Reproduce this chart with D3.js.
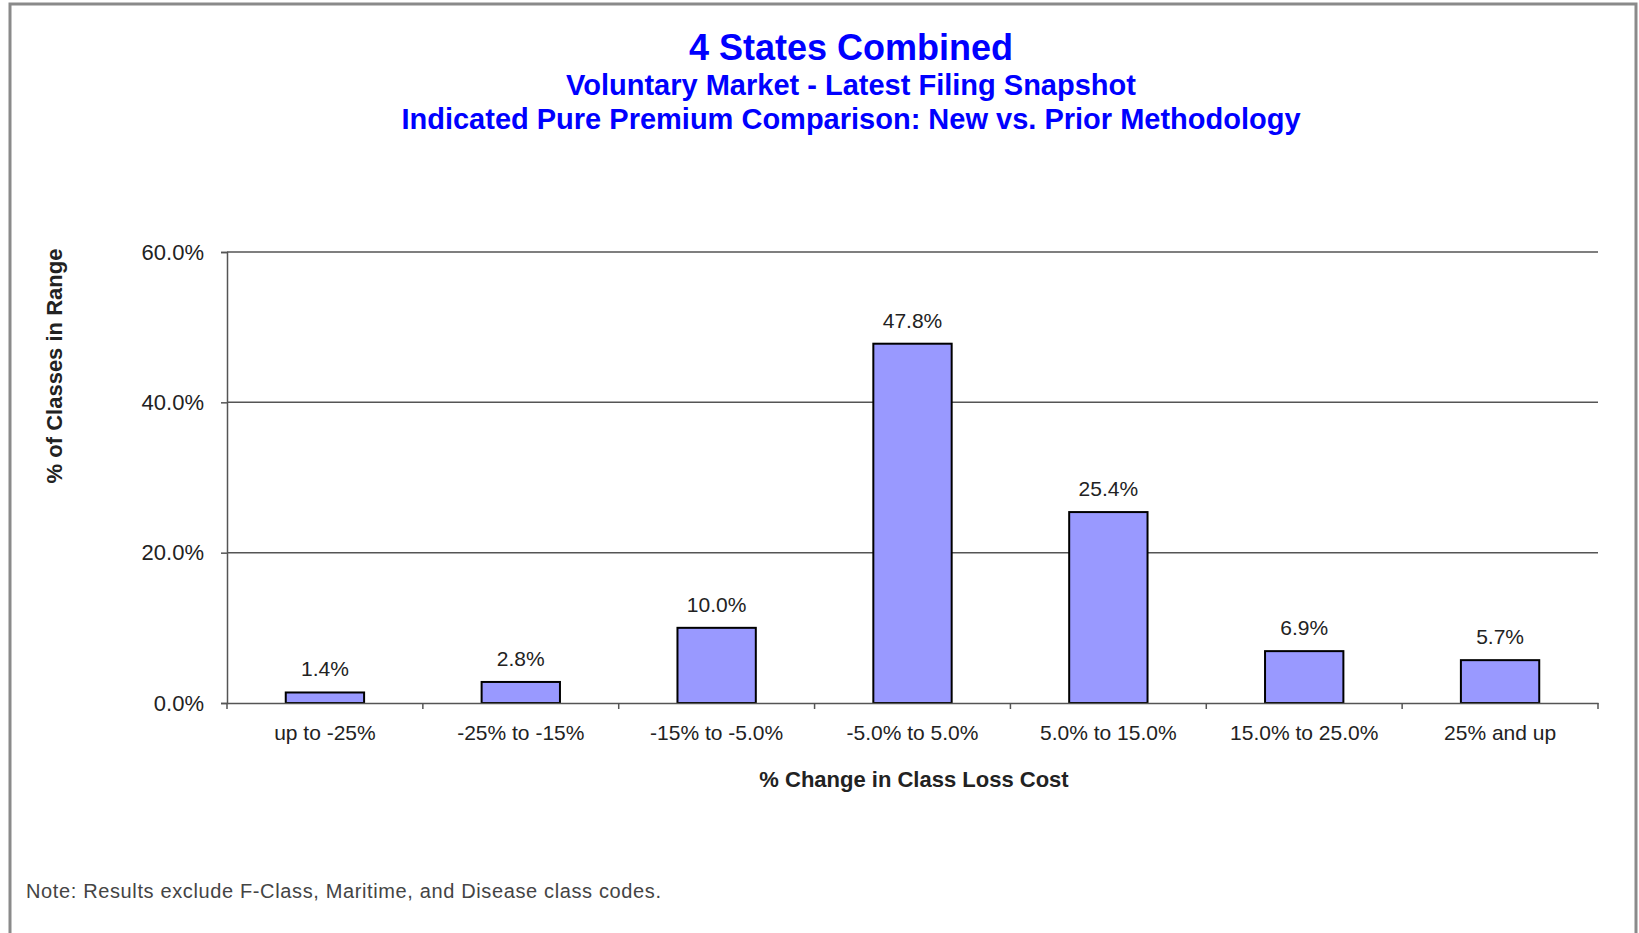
<!DOCTYPE html>
<html>
<head>
<meta charset="utf-8">
<script src="https://cdn.jsdelivr.net/npm/d3@7"></script>
<style>
  html, body { margin: 0; padding: 0; background: #ffffff; }
  svg { display: block; }
  text { font-family: "Liberation Sans", Arial, sans-serif; }
</style>
</head>
<body>
<svg id="chart" width="1639" height="933"></svg>
<script>
// Share of classes falling in each loss-cost change range
const categories = ["up to -25%", "-25% to -15%", "-15% to -5.0%", "-5.0% to 5.0%",
                    "5.0% to 15.0%", "15.0% to 25.0%", "25% and up"];
const values = [1.4, 2.8, 10.0, 47.8, 25.4, 6.9, 5.7];
const yTicks = [0, 20, 40, 60];

const titleLines = ["4 States Combined",
                    "Voluntary Market - Latest Filing Snapshot",
                    "Indicated Pure Premium Comparison: New vs. Prior Methodology"];
const yTitle = "% of Classes in Range";
const xTitle = "% Change in Class Loss Cost";
const note = "Note: Results exclude F-Class, Maritime, and Disease class codes.";

const W = 1639, H = 933;
const plot = { left: 227, right: 1598, top: 252, bottom: 703 };
const textColor = "#222";
const gridColor = "#555";

const svg = d3.select("#chart");

// outer frame
svg.append("rect").attr("x", 0).attr("y", 0).attr("width", W).attr("height", H).attr("fill", "#fff");
svg.append("path")
  .attr("d", `M10,${H} V4 H1636 V${H}`)
  .attr("fill", "none").attr("stroke", "#8a8a8a").attr("stroke-width", 3);

// titles
const titleSizes = [36, 29, 29];
const titleY = [60, 95, 129];
titleLines.forEach((t, i) => {
  svg.append("text")
    .attr("x", 851).attr("y", titleY[i])
    .attr("text-anchor", "middle")
    .attr("font-size", titleSizes[i]).attr("font-weight", "bold")
    .attr("fill", "#0000ff")
    .text(t);
});

const x = d3.scaleBand().domain(categories).range([plot.left, plot.right])
  .paddingInner(0.6).paddingOuter(0.3);
const y = d3.scaleLinear().domain([0, 60]).range([plot.bottom, plot.top]);

// horizontal gridlines
svg.append("g").selectAll("line").data(yTicks.filter(d => d > 0)).join("line")
  .attr("x1", plot.left).attr("x2", plot.right)
  .attr("y1", d => y(d)).attr("y2", d => y(d))
  .attr("stroke", gridColor).attr("stroke-width", 1.5);

// bars
svg.append("g").selectAll("rect").data(values).join("rect")
  .attr("x", (d, i) => x(categories[i]))
  .attr("y", d => y(d))
  .attr("width", x.bandwidth())
  .attr("height", d => y(0) - y(d))
  .attr("fill", "#9999ff").attr("stroke", "#000").attr("stroke-width", 2);

// value labels
svg.append("g").selectAll("text").data(values).join("text")
  .attr("x", (d, i) => x(categories[i]) + x.bandwidth() / 2)
  .attr("y", d => y(d) - 16)
  .attr("text-anchor", "middle")
  .attr("font-size", 21).attr("fill", textColor)
  .text(d => d.toFixed(1) + "%");

// y axis
const yAxis = svg.append("g").attr("transform", `translate(${plot.left},0)`)
  .call(d3.axisLeft(y).tickValues(yTicks).tickSize(6).tickPadding(17)
    .tickFormat(d => d.toFixed(1) + "%"));
yAxis.select(".domain").attr("stroke", gridColor).attr("stroke-width", 1.5);
yAxis.selectAll(".tick line").attr("stroke", gridColor).attr("stroke-width", 1.5);
yAxis.selectAll(".tick text").attr("font-size", 22).attr("fill", textColor)
  .attr("font-family", "Liberation Sans, Arial, sans-serif");

// x axis: category labels
const xAxis = svg.append("g").attr("transform", `translate(0,${plot.bottom})`)
  .call(d3.axisBottom(x).tickSize(0).tickPadding(22));
xAxis.select(".domain").attr("stroke", gridColor).attr("stroke-width", 1.5);
xAxis.selectAll(".tick text").attr("font-size", 21).attr("fill", textColor)
  .attr("font-family", "Liberation Sans, Arial, sans-serif");

// x axis: tick marks at category boundaries
const step = x.step();
const bounds = categories.map(c => x(c) - step * x.paddingOuter()).concat([plot.right]);
svg.append("g").selectAll("line").data(bounds).join("line")
  .attr("x1", d => d).attr("x2", d => d)
  .attr("y1", plot.bottom).attr("y2", plot.bottom + 6)
  .attr("stroke", gridColor).attr("stroke-width", 1.5);

// axis titles
svg.append("text")
  .attr("transform", "translate(62,366) rotate(-90)")
  .attr("text-anchor", "middle")
  .attr("font-size", 22).attr("font-weight", "bold").attr("fill", textColor)
  .text(yTitle);

svg.append("text")
  .attr("x", 914).attr("y", 787)
  .attr("text-anchor", "middle")
  .attr("font-size", 22).attr("font-weight", "bold").attr("fill", textColor)
  .text(xTitle);

// footnote
svg.append("text")
  .attr("x", 26).attr("y", 898)
  .attr("font-size", 20).attr("fill", "#444")
  .attr("textLength", 635).attr("lengthAdjust", "spacing")
  .text(note);
</script>
</body>
</html>
